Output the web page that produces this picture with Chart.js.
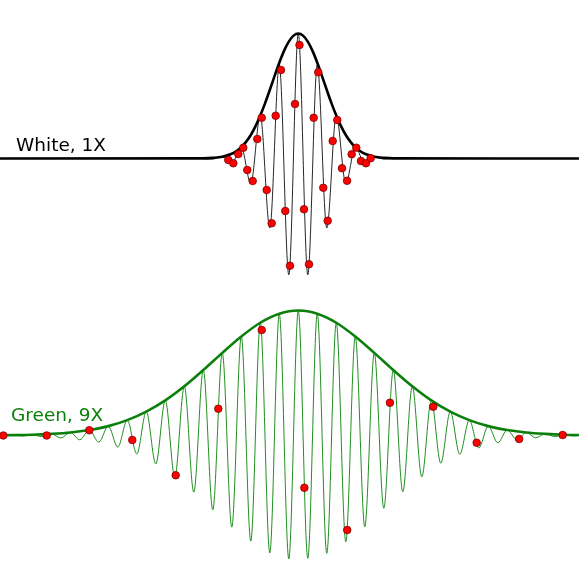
<!DOCTYPE html>
<html>
<head>
<meta charset="utf-8">
<title>White 1X / Green 9X</title>
<script src="https://cdn.jsdelivr.net/npm/chart.js@4.4.1/dist/chart.umd.min.js"></script>
<style>
  body { margin: 0; background: #fff; }
  #wrap { position: relative; width: 579px; height: 575px; overflow: hidden; }
  canvas { position: absolute; left: 0; }
  #c1 { top: 0; }
  #c2 { top: 290px; }
  .label { position: absolute; font-family: "DejaVu Sans", sans-serif; font-size: 18.5px; line-height: 18.5px; white-space: nowrap; }
  #lab1 { left: 16px; top: 136px; color: #000; }
  #lab2 { left: 11px; top: 406px; color: #0a7f0a; }
</style>
</head>
<body>
<div id="wrap">
  <canvas id="c1" width="579" height="290"></canvas>
  <canvas id="c2" width="579" height="285"></canvas>
  <div class="label" id="lab1"></div>
  <div class="label" id="lab2"></div>
</div>
<script>
// time is in 1X sample periods (0 = centre of the packet), amplitude is relative to the envelope peak
const seriesNames = ['White, 1X', 'Green, 9X'];

// white packet
const whiteEnvT = [-63, -20, -18, -16, -14, -13, -12, -11, -10, -9, -8, -7, -6, -5, -4, -3, -2, -1, 0,
  1, 2, 3, 4, 5, 6, 7, 8, 9, 10, 11, 12, 13, 14, 16, 18, 20, 60];
const whiteEnvY = [0, 0.001, 0.005, 0.014, 0.038, 0.06, 0.09, 0.133, 0.188, 0.259, 0.344, 0.441, 0.548, 0.659, 0.766, 0.861, 0.935, 0.983, 1,
  0.983, 0.935, 0.861, 0.766, 0.659, 0.548, 0.441, 0.344, 0.259, 0.188, 0.133, 0.09, 0.06, 0.038, 0.014, 0.005, 0.001, 0];

const whiteWaveT = [-63, -20, -18, -16, -14, -12, -10, -8, -6, -4, -2, 0, 2, 4, 6, 8, 10, 12, 14, 16, 18, 20, 60];
const whiteWaveY = [0, 0, -0.004, 0.014, -0.04, 0.09, -0.2, 0.344, -0.556, 0.75, -0.93, 1, -0.93, 0.75, -0.556, 0.344, -0.2, 0.09, -0.04, 0.014, -0.004, 0, 0];

const whiteSampleT = [-14.74, -13.68, -12.63, -11.58, -10.74, -9.6, -8.63, -7.7, -6.65, -5.6, -4.76, -3.64, -2.74, -1.75, -0.69, 0.25,
  1.2, 2.25, 3.24, 4.21, 5.26, 6.19, 7.24, 8.21, 9.2, 10.27, 11.24, 12.21, 13.2, 14.25, 15.24];
const whiteSampleY = [-0.012, -0.038, 0.036, 0.086, -0.092, -0.18, 0.156, 0.326, -0.252, -0.518, 0.342, 0.708, -0.42, -0.858, 0.436, 0.908,
  -0.406, -0.846, 0.326, 0.69, -0.234, -0.498, 0.14, 0.308, -0.078, -0.178, 0.034, 0.086, -0.02, -0.038, 0.002];

// green packet
const greenEnvT = [-64, -60, -56, -52, -48, -44, -40, -36, -32, -28, -24, -20, -16, -12, -8, -4, 0,
  4, 8, 12, 16, 20, 24, 28, 32, 36, 40, 44, 48, 52, 56, 60];
const greenEnvY = [0.002, 0.003, 0.006, 0.013, 0.024, 0.044, 0.075, 0.123, 0.191, 0.281, 0.394, 0.524, 0.661, 0.792, 0.902, 0.974, 1,
  0.974, 0.902, 0.792, 0.661, 0.524, 0.394, 0.281, 0.191, 0.123, 0.075, 0.044, 0.024, 0.013, 0.006, 0.003];

const greenWaveT = [-64, -62, -60, -58, -56, -54, -52, -50, -48, -46, -44, -42, -40, -38, -36, -34, -32, -30, -28, -26, -24, -22,
  -20, -18, -16, -14, -12, -10, -8, -6, -4, -2, 0, 2, 4, 6, 8, 10, 12, 14, 16, 18, 20, 22, 24, 26, 28, 30, 32, 34, 36, 38, 40,
  42, 44, 46, 48, 50, 52, 54, 56, 58, 60, 62];
const greenWaveY = [0, -0.002, 0.003, -0.004, 0.006, -0.009, 0.013, -0.02, 0.024, -0.034, 0.044, -0.053, 0.075, -0.093, 0.123, -0.147,
  0.191, -0.227, 0.281, -0.333, 0.394, -0.453, 0.524, -0.595, 0.661, -0.733, 0.792, -0.845, 0.902, -0.94, 0.974, -0.987, 1,
  -0.982, 0.974, -0.942, 0.902, -0.85, 0.792, -0.73, 0.661, -0.582, 0.524, -0.45, 0.394, -0.33, 0.281, -0.222, 0.191, -0.15,
  0.123, -0.1, 0.075, -0.058, 0.044, -0.033, 0.024, -0.018, 0.013, -0.009, 0.006, -0.004, 0.003, 0];

const greenSampleT = [-62.1, -52.97, -44.0, -34.95, -25.81, -16.84, -7.7, 1.28, 10.3, 19.3, 28.42, 37.56, 46.5, 55.66];
const greenSampleY = [0, 0, 0.042, -0.036, -0.318, 0.214, 0.844, -0.418, -0.756, 0.262, 0.23, -0.058, -0.028, 0.004];

document.getElementById('lab1').textContent = seriesNames[0];
document.getElementById('lab2').textContent = seriesNames[1];

function pts(ts, ys) {
    return ts.map((t, i) => ({ x: t, y: ys[i] }));
}

function drawPacket(id, env, wave, samples, envColor, waveColor, yMin, yMax) {
    new Chart(document.getElementById(id), {
        type: 'line',
        data: {
            datasets: [
                {
                    data: samples,
                    showLine: false,
                    pointRadius: 3.8,
                    pointBackgroundColor: '#ff0000',
                    pointBorderColor: '#7a0000',
                    pointBorderWidth: 0.8,
                    clip: false,
                    order: 0
                },
                {
                    data: env,
                    borderColor: envColor,
                    borderWidth: 2.6,
                    pointRadius: 0,
                    cubicInterpolationMode: 'monotone',
                    order: 1
                },
                {
                    data: wave,
                    borderColor: waveColor,
                    borderWidth: 1,
                    pointRadius: 0,
                    cubicInterpolationMode: 'monotone',
                    order: 2
                }
            ]
        },
        options: {
            responsive: false,
            animation: false,
            events: [],
            layout: { padding: 0, autoPadding: false },
            plugins: { legend: { display: false }, tooltip: { enabled: false } },
            scales: {
                x: { type: 'linear', min: -62.8, max: 59.1, display: false },
                y: { min: yMin, max: yMax, display: false }
            }
        }
    });
}

drawPacket('c1', pts(whiteEnvT, whiteEnvY), pts(whiteWaveT, whiteWaveY), pts(whiteSampleT, whiteSampleY),
    '#000000', 'rgba(0,0,0,0.85)', -1.052, 1.268);
drawPacket('c2', pts(greenEnvT, greenEnvY), pts(greenWaveT, greenWaveY), pts(greenSampleT, greenSampleY),
    '#0a7f0a', 'rgba(10,130,10,0.9)', -1.116, 1.164);
</script>
</body>
</html>
